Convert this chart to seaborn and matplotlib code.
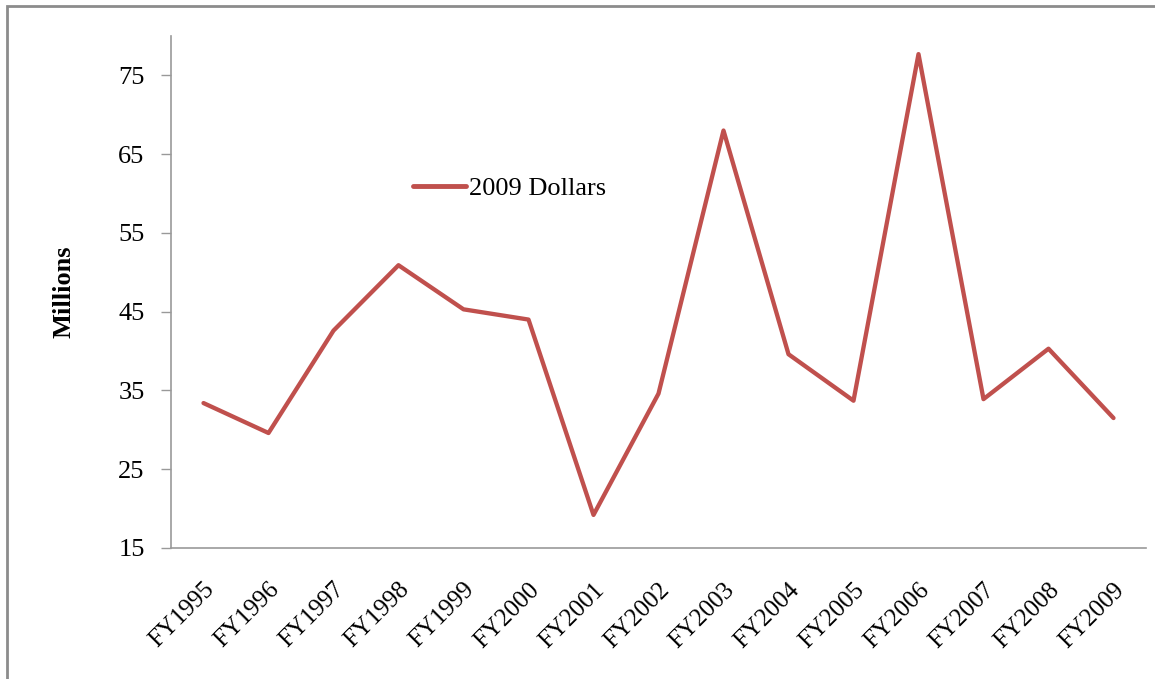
import matplotlib
matplotlib.use("Agg")
import matplotlib.pyplot as plt
from matplotlib.patches import Rectangle
from matplotlib.ticker import FixedLocator
from matplotlib.transforms import ScaledTranslation
import seaborn as sns
import pandas as pd

fiscal_years = ["FY1995", "FY1996", "FY1997", "FY1998", "FY1999", "FY2000",
                "FY2001", "FY2002", "FY2003", "FY2004", "FY2005", "FY2006",
                "FY2007", "FY2008", "FY2009"]
dollars_2009 = [33.4, 29.6, 42.6, 50.9, 45.3, 44.0, 19.2, 34.6, 68.0,
                39.6, 33.7, 77.7, 33.9, 40.3, 31.5]
series_name = "2009 Dollars"
y_ticks = [15, 25, 35, 45, 55, 65, 75]

sns.set_style("white")
plt.rcParams["font.family"] = ["Liberation Serif", "DejaVu Serif"]
plt.rcParams["text.color"] = "black"
plt.rcParams["xtick.color"] = "black"
plt.rcParams["ytick.color"] = "black"
plt.rcParams["axes.labelcolor"] = "black"

df = pd.DataFrame({"year": fiscal_years, "value": dollars_2009,
                   "series": series_name})

fig = plt.figure(figsize=(11.55, 6.79), dpi=100)
ax = fig.add_axes([171 / 1155, 1 - 548 / 679, (1146 - 171) / 1155, (548 - 36) / 679])

sns.lineplot(data=df, x="year", y="value", hue="series", sort=False,
             palette=["#C0504D"], linewidth=3.1, ax=ax)

n = len(fiscal_years)
ax.set_xlim(-0.5, n - 0.5)
ax.set_ylim(15, 80)
ax.set_yticks(y_ticks)
ax.set_yticklabels([str(t) for t in y_ticks], fontsize=19)

# category labels centred, tick marks on category boundaries
ax.set_xticks(range(n))
ax.set_xticklabels(fiscal_years, fontsize=18, rotation=45, ha="right",
                   rotation_mode="anchor")
shift = ScaledTranslation(-6 / 100, 0, fig.dpi_scale_trans)
for lbl in ax.get_xticklabels():
    lbl.set_transform(lbl.get_transform() + shift)
ax.xaxis.set_minor_locator(FixedLocator([i - 0.5 for i in range(n + 1)]))
ax.tick_params(axis="x", which="major", length=0, pad=22)
ax.tick_params(axis="x", which="minor", length=7, width=1, color="#999999",
               direction="out")
ax.tick_params(axis="y", which="major", length=7, width=1, color="#999999",
               labelcolor="black", direction="out", pad=12, left=True)

for side in ("top", "right"):
    ax.spines[side].set_visible(False)
for side in ("left", "bottom"):
    ax.spines[side].set_color("#999999")
    ax.spines[side].set_linewidth(1.2)

ax.set_xlabel("")
ax.set_ylabel("Millions", fontsize=19, fontweight="bold", labelpad=31)

leg = ax.legend(loc="center left", bbox_to_anchor=(0.248, 0.703), frameon=False,
                fontsize=19, handlelength=2.0, handletextpad=0.12,
                borderpad=0, borderaxespad=0)
for line in leg.get_lines():
    line.set_linewidth(3.5)

# outer frame of the chart area
fig.patches.append(Rectangle((7 / 1155, -0.05), 1.2, 1 - 6 / 679 + 0.05,
                             transform=fig.transFigure, fill=False,
                             edgecolor="#8c8c8c", linewidth=2.0))

fig.savefig("out.png", dpi=100, facecolor="white")
